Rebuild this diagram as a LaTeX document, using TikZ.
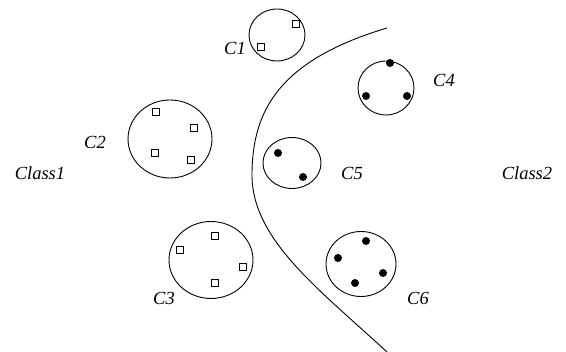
\documentclass[tikz,border=0pt]{standalone}
\usepackage{fontspec}
\setmainfont{Liberation Serif}
\usetikzlibrary{shapes.geometric}

\begin{document}
\begin{tikzpicture}[x=1pt, y=-1pt,
          every node/.style={font=\fontsize{18.5}{22}\selectfont\itshape},
          cluster/.style={draw, ellipse, line width=0.9pt, inner sep=0pt},
          sq/.style={draw, rectangle, line width=1.3pt, minimum size=7pt,
                     inner sep=0pt},
          dot/.style={fill, circle, minimum size=8pt, inner sep=0pt}]
        \useasboundingbox (0,0) rectangle (566,352);
        % clusters
        \node[cluster, minimum width=56pt, minimum height=52pt] (c1) at (277,35) {};
        \node[cluster, minimum width=84pt, minimum height=78pt] (c2) at (170,139) {};
        \node[cluster, minimum width=84pt, minimum height=77pt] (c3) at (211,260) {};
        \node[cluster, minimum width=56pt, minimum height=54pt] (c4) at (386,88) {};
        \node[cluster, minimum width=58pt, minimum height=51pt] (c5) at (292,163) {};
        \node[cluster, minimum width=70pt, minimum height=65pt] (c6) at (361,264) {};
        % class 1 members
        \node[sq] (s11) at (296,24) {};
        \node[sq] (s12) at (261,47) {};
        \node[sq] (s21) at (156,112) {};
        \node[sq] (s22) at (194,128) {};
        \node[sq] (s23) at (155,153) {};
        \node[sq] (s24) at (191,160) {};
        \node[sq] (s31) at (215,236) {};
        \node[sq] (s32) at (180,250) {};
        \node[sq] (s33) at (243,267) {};
        \node[sq] (s34) at (215,283) {};
        % class 2 members
        \node[dot] (d41) at (390,63) {};
        \node[dot] (d42) at (366,96) {};
        \node[dot] (d43) at (407,96) {};
        \node[dot] (d51) at (278,153) {};
        \node[dot] (d52) at (303,177) {};
        \node[dot] (d61) at (366,241) {};
        \node[dot] (d62) at (338,258) {};
        \node[dot] (d63) at (383,273) {};
        \node[dot] (d64) at (355,283) {};
        % labels
        \node (l1) at (235,48) {C1};
        \node (l2) at (95,142) {C2};
        \node (l3) at (164,298) {C3};
        \node (l4) at (444,80) {C4};
        \node (l5) at (352,173) {C5};
        \node (l6) at (418,298) {C6};
        \node (cls1) at (40,173) {Class1};
        \node (cls2) at (527,173) {Class2};
        % decision boundary
        \coordinate (top) at (387,28);
        \coordinate (vtx) at (252,175);
        \coordinate (bot) at (387,352);
        \draw[line width=0.9pt] (top) .. controls (280,60) and (252,110) .. (vtx)
              .. controls (252,240) and (320,290) .. (bot);
      \end{tikzpicture}
\end{document}
